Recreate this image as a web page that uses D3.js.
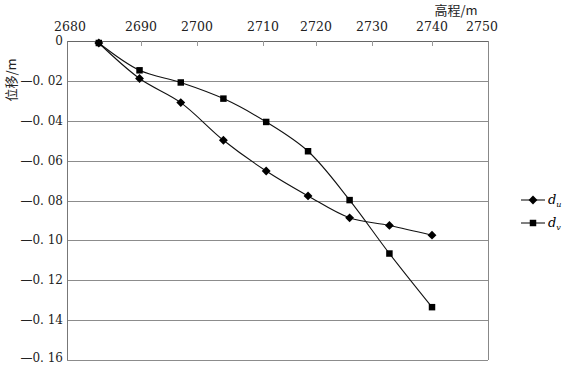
<!DOCTYPE html>
<html>
<head>
<meta charset="utf-8">
<title>位移-高程</title>
<style>
  html, body { margin: 0; padding: 0; background: #fff; }
  svg { display: block; }
  .tick-label { font-family: "DejaVu Serif", "Liberation Serif", serif; font-size: 12.5px; fill: #222; }
  .title { font-family: "Noto Sans CJK SC", sans-serif; font-size: 13px; fill: #222; }
  .grid { stroke: #8c8c8c; stroke-width: 1; }
  .series { fill: none; stroke: #111; stroke-width: 1.1; }
</style>
</head>
<body>
<svg></svg>
<script src="https://d3js.org/d3.v7.min.js"></script>
<script>
  // elevation (m) of each measuring point
  const elevation = [2684.3, 2689.8, 2697.1, 2704.0, 2710.6, 2718.5, 2726.0, 2732.9, 2740.0];
  // displacement series (m)
  const du = [-0.001, -0.0188, -0.0309, -0.0498, -0.0652, -0.0777, -0.0887, -0.0925, -0.0974];
  const dv = [-0.001, -0.0147, -0.0208, -0.0289, -0.0406, -0.0553, -0.0798, -0.1066, -0.1335];
  const xTicks = [2680, 2690, 2700, 2710, 2720, 2730, 2740, 2750];
  const yTicks = [0, -0.02, -0.04, -0.06, -0.08, -0.10, -0.12, -0.14, -0.16];

  const width = 563, height = 365;
  const mLeft = 67, mRight = 488, mTop = 41, mBottom = 360;

  const svg = d3.select("svg").attr("width", width).attr("height", height);

  // the printed elevation axis is not evenly spaced, so map each tick to where it sits
  const tickPos = [0, 0.1758, 0.3088, 0.4656, 0.5914, 0.7245, 0.867, 1];
  const x = d3.scaleLinear()
    .domain(xTicks)
    .range(tickPos.map(f => mLeft + f * (mRight - mLeft)));
  const y = d3.scaleLinear().domain([0, -0.16]).range([mTop, mBottom]);

  // horizontal grid
  svg.append("g").selectAll("line")
    .data(yTicks.slice(1))
    .join("line")
    .attr("class", "grid")
    .attr("x1", mLeft).attr("x2", mRight)
    .attr("y1", d => Math.round(y(d)) + 0.5).attr("y2", d => Math.round(y(d)) + 0.5);

  // frame: top axis, left axis, right border
  svg.append("line").attr("stroke", "#666")
    .attr("x1", mLeft).attr("x2", mRight)
    .attr("y1", mTop + 0.5).attr("y2", mTop + 0.5);
  svg.append("line").attr("stroke", "#777")
    .attr("x1", mLeft + 0.5).attr("x2", mLeft + 0.5)
    .attr("y1", mTop).attr("y2", mBottom);
  svg.append("line").attr("stroke", "#888")
    .attr("x1", mRight + 0.5).attr("x2", mRight + 0.5)
    .attr("y1", mTop).attr("y2", mBottom);

  // top axis tick marks (pointing into plot)
  svg.append("g").selectAll("line")
    .data(xTicks.slice(1, -1))
    .join("line")
    .attr("stroke", "#999")
    .attr("x1", d => Math.round(x(d)) + 0.5).attr("x2", d => Math.round(x(d)) + 0.5)
    .attr("y1", mTop).attr("y2", mTop + 5);

  svg.append("g").selectAll("text")
    .data(xTicks)
    .join("text")
    .attr("class", "tick-label")
    .attr("x", (d, i) => x(d) + (i === xTicks.length - 1 ? -6 : i === 0 ? 3 : 0))
    .attr("y", 31)
    .attr("text-anchor", "middle")
    .text(d => d);

  const yFmt = d => d === 0 ? "0" : "—0. " + d3.format("02d")(Math.round(-d * 100));
  svg.append("g").selectAll("text")
    .data(yTicks)
    .join("text")
    .attr("class", "tick-label")
    .style("font-size", "12px")
    .attr("x", 63)
    .attr("y", d => Math.min(y(d) + 4, 362))
    .attr("text-anchor", "end")
    .text(yFmt);

  svg.append("text").attr("class", "title")
    .attr("x", 456).attr("y", 15)
    .attr("text-anchor", "middle")
    .text("高程/m");
  svg.append("text").attr("class", "title")
    .attr("transform", "translate(16,80) rotate(-90)")
    .attr("text-anchor", "middle")
    .text("位移/m");

  const line = d3.line()
    .x(d => x(d[0])).y(d => y(d[1]))
    .curve(d3.curveCatmullRom.alpha(0.5));

  const diamond = d3.symbol().type(d3.symbolDiamond2).size(50);
  const square = d3.symbol().type(d3.symbolSquare).size(42);

  const series = [
    { name: "u", vals: du, sym: diamond },
    { name: "v", vals: dv, sym: square }
  ];

  series.forEach(s => {
    const pts = elevation.map((e, i) => [e, s.vals[i]]);
    svg.append("path").attr("class", "series").attr("d", line(pts));
    svg.append("g").selectAll("path")
      .data(pts)
      .join("path")
      .attr("d", s.sym)
      .attr("fill", "#000")
      .attr("transform", d => `translate(${x(d[0])},${y(d[1])})`);
  });

  // legend
  const leg = svg.append("g");
  series.forEach((s, i) => {
    const ly = 200 + i * 23;
    leg.append("line").attr("stroke", "#000")
      .attr("x1", 521).attr("x2", 545).attr("y1", ly).attr("y2", ly);
    leg.append("path").attr("d", s.sym).attr("fill", "#000")
      .attr("transform", `translate(533,${ly})`);
    const t = leg.append("text")
      .attr("x", 548).attr("y", ly + 4)
      .style("font-family", "'DejaVu Serif', serif")
      .style("font-style", "italic").style("font-size", "13px");
    t.append("tspan").text("d");
    t.append("tspan").attr("dy", 3).style("font-size", "8px").text(s.name);
  });
</script>
</body>
</html>
